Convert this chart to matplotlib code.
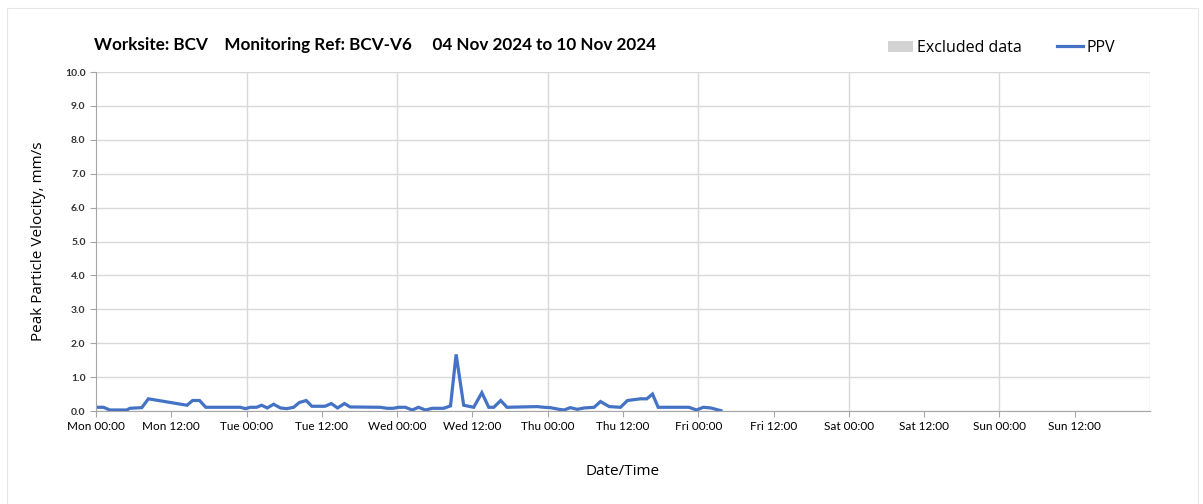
import matplotlib.pyplot as plt
from matplotlib.patches import Patch, Rectangle
from matplotlib.lines import Line2D
import numpy as np

# hours since Mon 04 Nov 2024 00:00
hours = [0, 1.2, 2.2, 4.9, 5.4, 7.3, 8.35, 14.5, 15.4, 16.5, 17.5, 23, 23.8,
         24.6, 25.6, 26.4, 27.3, 28.3, 29.4, 30.4, 31.5, 32.4, 33.5, 34.4,
         36.5, 37.5, 38.5, 39.6, 40.5, 45.3, 46.4, 47.4, 48.2, 49.3, 50.4,
         51.4, 52.5, 53.6, 55.4, 56.5, 57.4, 58.6, 60.2, 61.5, 62.6, 63.4,
         64.5, 65.5, 70.3, 71.4, 72.4, 73.8, 74.6, 75.6, 76.7, 77.8, 79.4,
         80.4, 81.8, 83.6, 84.7, 86.8, 87.8, 88.7, 89.6, 94.5, 95.7, 96.8,
         98.0, 99.6]
ppv = [0.11, 0.11, 0.03, 0.03, 0.08, 0.10, 0.36, 0.17, 0.31, 0.31, 0.11, 0.11,
       0.07, 0.11, 0.11, 0.17, 0.09, 0.20, 0.09, 0.07, 0.11, 0.25, 0.31, 0.14,
       0.14, 0.22, 0.09, 0.22, 0.12, 0.11, 0.08, 0.08, 0.11, 0.11, 0.03,
       0.11, 0.03, 0.08, 0.08, 0.15, 1.67, 0.17, 0.11, 0.54, 0.11, 0.11,
       0.31, 0.11, 0.13, 0.11, 0.10, 0.05, 0.03, 0.10, 0.05, 0.09, 0.11,
       0.28, 0.13, 0.11, 0.31, 0.36, 0.36, 0.50, 0.11, 0.11, 0.03, 0.11,
       0.09, 0.01]

tick_labels = ['Mon 00:00', 'Mon 12:00', 'Tue 00:00', 'Tue 12:00', 'Wed 00:00',
               'Wed 12:00', 'Thu 00:00', 'Thu 12:00', 'Fri 00:00', 'Fri 12:00',
               'Sat 00:00', 'Sat 12:00', 'Sun 00:00', 'Sun 12:00']

title = 'Worksite: BCV    Monitoring Ref: BCV-V6     04 Nov 2024 to 10 Nov 2024'

plt.rcParams['font.family'] = ['Lato', 'DejaVu Sans']

# configure plot
fig = plt.figure(figsize=(12.03, 5.04), dpi=100)
ax = fig.add_axes([0.0798, 0.1845, 0.8762, 0.6725])

fig.patches.append(Rectangle((0.006, -0.01), 0.99, 0.995, transform=fig.transFigure,
                             fill=False, edgecolor='#e6e6e6', linewidth=0.8))

ax.plot(hours, ppv, '-', color='#4472c4', linewidth=2.3, solid_joinstyle='miter')

ax.set_xlim(0, 168)
ax.set_ylim(0, 10)
ax.set_xticks(np.arange(0, 168, 12))
ax.set_xticklabels(tick_labels, fontsize=8.5)
ax.set_yticks(np.arange(0, 10.5, 1))
ax.set_yticklabels([f'{v:.1f}' for v in np.arange(0, 10.5, 1)],
                   fontsize=7.5, fontweight='bold', color='#333333')

# gridlines: horizontal each 1.0, vertical at midnight only
ax.grid(axis='y', color='#d9d9d9', linewidth=1)
for h in np.arange(24, 169, 24):
    ax.axvline(h, color='#d9d9d9', linewidth=1, zorder=0)
ax.set_axisbelow(True)

for side in ['top', 'right']:
    ax.spines[side].set_visible(False)
for side in ['left', 'bottom']:
    ax.spines[side].set_color('#a6a6a6')
ax.tick_params(axis='both', color='#a6a6a6', length=4)

ax.set_xlabel('Date/Time', fontsize=11, labelpad=23, family=['Open Sans'])
ax.set_ylabel('Peak Particle Velocity, mm/s', fontsize=11, labelpad=14,
              family=['Open Sans'])

fig.text(0.078, 0.9, title, fontsize=12.3, fontweight='bold')

handles = [Patch(facecolor='#d3d3d3', edgecolor='none', label='Excluded data'),
           Line2D([0], [0], color='#4472c4', linewidth=2.3, label='PPV')]
fig.legend(handles=handles, loc='upper right', bbox_to_anchor=(0.939, 0.949),
           ncol=2, frameon=False, handlelength=1.6, handletextpad=0.25,
           columnspacing=2.2, prop={'family': 'Open Sans', 'size': 11.5})

plt.savefig('out.png', dpi=100)
